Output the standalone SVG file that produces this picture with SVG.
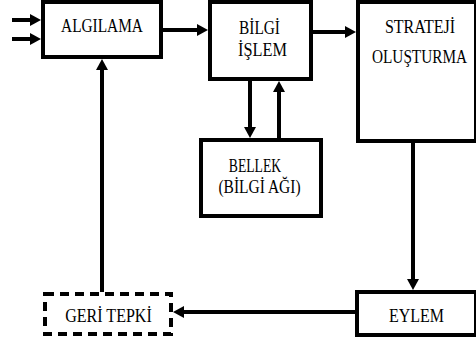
<svg xmlns="http://www.w3.org/2000/svg" width="476" height="345" viewBox="0 0 476 345">
<style>
.box{fill:#fff;stroke:#000;stroke-width:4}
.dash{fill:#fff;stroke:#000;stroke-width:4;stroke-dasharray:9 6}
.t{font-size:19.5px;fill:#000;text-anchor:middle}
.c{stroke:#000;stroke-width:4;fill:none;marker-end:url(#ah)}
</style>
<defs>
<marker id="ah" markerUnits="userSpaceOnUse" markerWidth="11" markerHeight="12" refX="5" refY="6" orient="auto">
<path d="M0,0 L11,6 L0,12 z" fill="#000"/>
</marker>
</defs>
<rect width="476" height="345" fill="#fff"/>
<g id="connectors">
<line class="c" x1="12" y1="20" x2="35" y2="20"/>
<line class="c" x1="12" y1="39" x2="35" y2="39"/>
<line class="c" x1="163" y1="30" x2="202" y2="30"/>
<line class="c" x1="313" y1="32" x2="350" y2="32"/>
<line class="c" x1="250" y1="81" x2="250" y2="132"/>
<line class="c" x1="279" y1="138" x2="279" y2="87"/>
<line class="c" x1="413" y1="143" x2="413" y2="284"/>
<line class="c" x1="355" y1="312" x2="179" y2="312"/>
<line class="c" x1="102" y1="292" x2="102" y2="65"/>
</g>
<g font-family="Liberation Serif, Times New Roman, serif">
<g id="algilama">
<rect class="box" x="43" y="2" width="118" height="55"/>
<text class="t" transform="translate(102,32) scale(0.788,1)">ALGILAMA</text>
</g>
<g id="bilgi-islem">
<rect class="box" x="210" y="2" width="101" height="77"/>
<text class="t" transform="translate(259.5,34) scale(0.788,1)">BİLGİ</text>
<text class="t" transform="translate(262.5,56) scale(0.837,1)">İŞLEM</text>
</g>
<g id="strateji">
<rect class="box" x="358" y="2" width="118" height="139"/>
<text class="t" transform="translate(420,33) scale(0.821,1)">STRATEJİ</text>
<text class="t" transform="translate(419.5,63) scale(0.783,1)">OLUŞTURMA</text>
</g>
<g id="bellek">
<rect class="box" x="201" y="140" width="120" height="76"/>
<text class="t" transform="translate(255,172) scale(0.70,1)">BELLEK</text>
<text class="t" transform="translate(259.5,193) scale(0.794,1)">(BİLGİ AĞI)</text>
</g>
<g id="eylem">
<rect class="box" x="357" y="292" width="119" height="43"/>
<text class="t" transform="translate(416.5,322) scale(0.819,1)">EYLEM</text>
</g>
<g id="geri-tepki">
<rect class="dash" x="45" y="294" width="126" height="40"/>
<text class="t" transform="translate(108.5,322) scale(0.823,1)">GERİ TEPKİ</text>
</g>
</g>
</svg>
